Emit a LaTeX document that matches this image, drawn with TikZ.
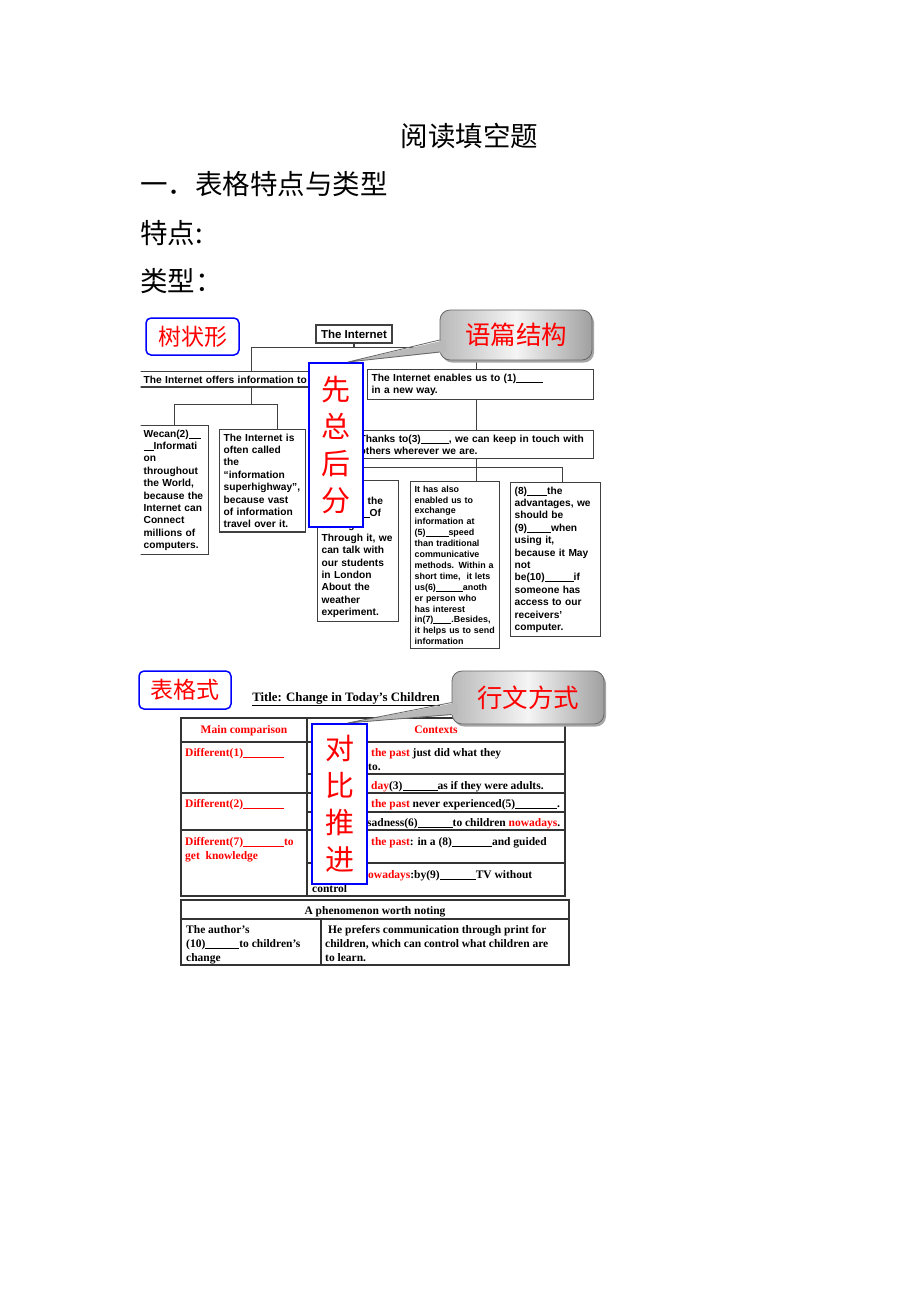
\documentclass[tikz,border=0pt]{standalone}
\usepackage{fontspec}
\setmainfont{Liberation Serif}
\newfontfamily\arialf{Liberation Sans}
\newfontfamily\cjk{Noto Sans CJK SC}
\newcommand\fillin[1]{\rule[-0.13em]{#1}{0.07em}}

\begin{document}
\begin{tikzpicture}[x=1pt,y=-1pt,
    tline/.style={draw=black!75,line width=1.3pt},
    tbox/.style={draw=black!75,line width=1.3pt,fill=white,anchor=north west,
        align=left,inner sep=4pt,font=\arialf\bfseries\fontsize{10.2}{12.4}\selectfont},
    smallbox/.style={tbox,font=\arialf\bfseries\fontsize{8.9}{10.9}\selectfont},
    bluebox/.style={draw=blue,line width=2pt,fill=white,text=red,align=center,
        inner sep=0pt,font=\cjk\fontsize{29}{37}\selectfont},
    kindbox/.style={draw=blue,line width=1.5pt,rounded corners=5pt,text=red,
        inner sep=0pt,font=\cjk\fontsize{23}{23}\selectfont},
    heading/.style={inner sep=0pt,font=\cjk\fontsize{27.5}{27.5}\selectfont},
    callbox/.style={draw=black!60,line width=0.8pt,rounded corners=10pt,
        left color=gray!55,right color=gray!75,middle color=gray!8,
        text=red,inner sep=0pt,font=\cjk\fontsize{25.5}{25.5}\selectfont},
    callshadow/.style={fill=gray!70,rounded corners=10pt,inner sep=0pt},
    calltail/.style={draw=black!60,line width=0.8pt},
    tabline/.style={draw=black!80,line width=1.2pt},
    cell/.style={inner sep=0pt,anchor=base west,font=\bfseries\fontsize{11.5}{14}\selectfont},
    redcell/.style={cell,text=red}
]
    \fill[white] (0,0) rectangle (920,1302);
    \useasboundingbox (0,0) rectangle (920,1302);

    % headings
    \node[heading] (title) at (469.5,136) {阅读填空题};
    \node[heading,anchor=west] (part1) at (140,184) {一．表格特点与类型};
    \node[heading,anchor=west] (feature) at (140,233) {特点:};
    \node[heading,anchor=west] (kinds) at (140,281) {类型：};

    % tree
    \node[kindbox,minimum width=93pt,minimum height=37pt] (treekind) at (192.5,336.5) {树状形};

    \begin{scope}
        \clip (140.5,300) rectangle (610,660);
        \node[draw=black!75,line width=1.3pt,fill=white,inner sep=0pt,minimum width=76pt,
            minimum height=18pt,font=\arialf\bfseries\fontsize{11.5}{11.5}\selectfont]
            (root) at (354,334) {The Internet};
        \node[tbox,text width=216pt] (offers) at (139,371) {The Internet offers information to};
        \node[tbox,text width=218pt] (enables) at (367,369)
            {The Internet enables us to (1)\fillin{27pt}\\in a new way.};
        \node[tbox,text width=230pt] (thanks) at (355,430)
            {Thanks to(3)\fillin{28pt}, we can keep in touch with\\others wherever we are.};
        \node[tbox,text width=61pt] (wecan) at (139,425)
            {Wecan(2)\fillin{12pt}\\\fillin{10pt}Informati\\on\\throughout\\the World,\\because the\\Internet can\\Connect\\millions of\\computers.};
        \node[tbox,text width=78pt] (often) at (219,429)
            {The Internet is\\often called\\the\\“information\\superhighway”,\\because vast\\of information\\travel over it.};
        \node[tbox,text width=73pt] (talk) at (317,480)
            {\phantom{E}\\\hspace*{46pt}the\\\hspace*{40pt}\fillin{8pt}Of\\talking.\\Through it, we\\can talk with\\our students\\in London\\About the\\weather\\experiment.};
        \node[smallbox,text width=81pt] (also) at (410,481)
            {It has also\\enabled us to\\exchange\\information at\\(5)\fillin{23pt}speed\\than traditional\\communicative\\methods. Within a\\short time,\ \ it lets\\us(6)\fillin{27pt}anoth\\er person who\\has interest\\in(7)\fillin{18pt}.Besides,\\it helps us to send\\information};
        \node[tbox,text width=82pt] (eight) at (510,482)
            {(8)\fillin{20pt}the\\advantages, we\\should be\\(9)\fillin{24pt}when\\using it,\\because it May\\not\\be(10)\fillin{29pt}if\\someone has\\access to our\\receivers’\\computer.};

        \coordinate (spine) at ([xshift=-4pt]enables.south);
        \draw[tline] (root.south) -- ++(0,4);
        \draw[tline] (offers.north) |- ([yshift=-4pt]root.south) -| ([xshift=-4pt]enables.north);
        \draw[tline] (spine) -- (spine |- thanks.north);
        \draw[tline] (spine |- thanks.south) -- (spine |- also.north);
        \draw[tline] (offers.south) -- ++(0,17);
        \draw[tline] (wecan.north) |- ([yshift=-17pt]offers.south) -| ([xshift=15pt]often.north);
        \draw[tline] (talk.north) |- ([yshift=-8pt]thanks.south) -| ([xshift=7pt]eight.north);
    \end{scope}

    \node[bluebox,minimum width=54pt,minimum height=164pt] (zongfen) at (336,445) {先\\总\\后\\分};

    \node[callshadow,minimum width=152pt,minimum height=50pt] at (518,337.5) {};
    \node[callbox,minimum width=152pt,minimum height=50pt] (structcall) at (516,335) {语篇结构};
    \fill[gray!55] ([shift={(6pt,-5pt)}]structcall.west) -- ([xshift=12pt]zongfen.north)
        -- ([shift={(6pt,-17pt)}]structcall.west) -- cycle;
    \draw[calltail] ([yshift=-5pt]structcall.west) -- ([xshift=12pt]zongfen.north)
        -- ([yshift=-17pt]structcall.west);

    % table
    \node[kindbox,minimum width=92pt,minimum height=38pt] (tablekind) at (185,690) {表格式};
    \node[inner sep=0pt,anchor=base,font=\bfseries\fontsize{12.8}{12.8}\selectfont]
        (tabtitle) at (346,701) {\underline{Title: Change in Today’s Children}};

    \draw[tabline] (181,718) rectangle (565,896);
    \draw[tabline] (181,742) -- (565,742) (181,793) -- (565,793) (181,830) -- (565,830);
    \draw[tabline] (307,718) -- (307,896);
    \draw[tabline] (307,774) -- (565,774) (307,812) -- (565,812) (307,863) -- (565,863);
    \draw[tabline] (181,900) rectangle (569,965);
    \draw[tabline] (181,919) -- (569,919) (321,919) -- (321,965);

    \node[redcell,anchor=base] (maincmp) at (244,733) {Main comparison};
    \node[redcell,anchor=base] (contexts) at (436,733) {Contexts};
    \node[redcell] (diff1) at (185,756) {Different(1)\fillin{41pt}};
    \node[cell] (past1) at (371,756) {\textcolor{red}{the past} just did what they};
    \node[cell] (past1b) at (368,770) {to.};
    \node[cell] (today1) at (371,789) {\textcolor{red}{day}(3)\fillin{35pt}as if they were adults.};
    \node[redcell] (diff2) at (185,807) {Different(2)\fillin{41pt}};
    \node[cell] (past2) at (371,807) {\textcolor{red}{the past} never experienced(5)\fillin{42pt}.};
    \node[cell] (today2) at (367,826) {sadness(6)\fillin{35pt}to children \textcolor{red}{nowadays}.};
    \node[redcell] (diff7) at (185,845) {Different(7)\fillin{41pt}to};
    \node[redcell] (diff7b) at (185,859) {get\ \ knowledge};
    \node[cell] (past3) at (371,845) {\textcolor{red}{the past}: in a (8)\fillin{40pt}and guided};
    \node[cell] (today3) at (368,878) {\textcolor{red}{owadays}:by(9)\fillin{36pt}TV without};
    \node[cell] (today3b) at (312,892) {control};

    \node[cell,anchor=base] (noting) at (375,914) {A phenomenon worth noting};
    \node[cell] (auth1) at (186,933) {The author’s};
    \node[cell] (auth2) at (186,947) {(10)\fillin{34pt}to children’s};
    \node[cell] (auth3) at (186,961) {change};
    \node[cell] (pref1) at (328,933) {He prefers communication through print for};
    \node[cell] (pref2) at (325,947) {children, which can control what children are};
    \node[cell] (pref3) at (325,961) {to learn.};

    \node[bluebox,minimum width=55pt,minimum height=160pt] (duibi) at (339.5,804) {对\\比\\推\\进};

    \node[callshadow,minimum width=152pt,minimum height=53pt] at (530,700) {};
    \node[callbox,minimum width=152pt,minimum height=53pt] (modecall) at (528,697.5) {行文方式};
    \fill[gray!55] ([shift={(6pt,-5pt)}]modecall.west) -- ([xshift=8pt]duibi.north)
        -- ([shift={(6pt,-17pt)}]modecall.west) -- cycle;
    \draw[calltail] ([yshift=-5pt]modecall.west) -- ([xshift=8pt]duibi.north)
        -- ([yshift=-17pt]modecall.west);
\end{tikzpicture}
\end{document}
